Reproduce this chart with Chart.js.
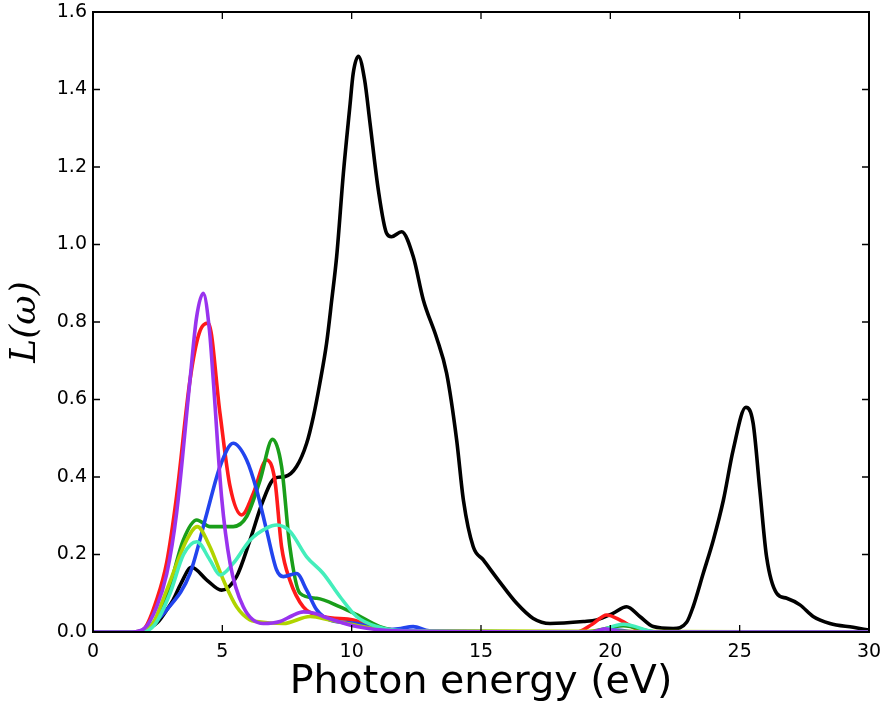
<!DOCTYPE html>
<html>
<head>
<meta charset="utf-8">
<script src="https://cdn.jsdelivr.net/npm/chart.js@4.4.1/dist/chart.umd.min.js"></script>
<style>
  html, body { margin: 0; padding: 0; background: #fff; }
  #wrap { width: 886px; height: 707px; }
</style>
</head>
<body>
<div id="wrap"><canvas id="lossChart"></canvas></div>
<script>
// loss function L(w) vs photon energy
const xTicks = [0, 5, 10, 15, 20, 25, 30];
const yTicks = [0.0, 0.2, 0.4, 0.6, 0.8, 1.0, 1.2, 1.4, 1.6];

const eBlack = [0, 1.5, 2.0, 2.5, 2.85, 3.1, 3.4, 3.81, 4.4, 4.97, 5.55, 6.07, 6.58, 7.03, 7.42, 7.87, 8.26, 8.52, 8.77, 9.03, 9.23, 9.42, 9.68, 9.93, 10.06, 10.26, 10.5, 10.71, 11.03, 11.35, 11.54, 11.93, 12.38, 12.77, 13.28, 13.67, 14.06, 14.32, 14.7, 15.09, 15.67, 16.38, 17.02, 17.67, 18.96, 19.47, 20.1, 20.63, 21.14, 21.66, 22.43, 22.95, 23.2, 23.59, 23.98, 24.37, 24.75, 25.24, 25.52, 25.78, 26.04, 26.43, 26.82, 27.33, 27.84, 28.49, 29.39, 30];
const lBlack = [0, 0, 0.005, 0.025, 0.057, 0.083, 0.125, 0.167, 0.134, 0.108, 0.143, 0.237, 0.34, 0.397, 0.401, 0.427, 0.487, 0.556, 0.642, 0.745, 0.857, 0.969, 1.184, 1.356, 1.442, 1.486, 1.425, 1.313, 1.141, 1.029, 1.02, 1.033, 0.969, 0.857, 0.76, 0.668, 0.495, 0.34, 0.22, 0.186, 0.134, 0.074, 0.035, 0.022, 0.027, 0.031, 0.048, 0.065, 0.04, 0.014, 0.009, 0.025, 0.065, 0.151, 0.237, 0.34, 0.47, 0.58, 0.539, 0.366, 0.194, 0.1, 0.087, 0.07, 0.04, 0.022, 0.012, 0.005];

const eRed = [0, 1.6, 2.0, 2.46, 2.85, 3.23, 3.75, 4.1, 4.46, 4.91, 5.3, 5.75, 6.2, 6.71, 7.03, 7.29, 7.61, 8.13, 8.9, 10.06, 10.84, 12, 18.7, 19.3, 19.86, 20.4, 21.0, 21.5, 30];
const lRed = [0, 0, 0.01, 0.083, 0.18, 0.35, 0.65, 0.77, 0.797, 0.564, 0.375, 0.302, 0.358, 0.444, 0.392, 0.22, 0.134, 0.065, 0.04, 0.031, 0.014, 0.003, 0, 0.02, 0.044, 0.03, 0.008, 0, 0];

const eGreen = [0, 1.8, 2.3, 2.85, 3.49, 4.01, 4.52, 5.42, 5.94, 6.46, 6.94, 7.29, 7.61, 8.0, 8.65, 9.55, 10.19, 11.09, 12, 19, 20.5, 21.8, 30];
const lGreen = [0, 0, 0.02, 0.091, 0.237, 0.289, 0.272, 0.272, 0.298, 0.392, 0.497, 0.427, 0.22, 0.1, 0.087, 0.065, 0.045, 0.014, 0.003, 0, 0.016, 0, 0];

const eBlue = [0, 1.9, 2.3, 2.85, 3.75, 4.4, 4.91, 5.42, 5.94, 6.33, 6.71, 7.1, 7.36, 7.87, 8.26, 8.65, 9.16, 10.2, 11.2, 11.8, 12.38, 13, 19.5, 20.2, 21, 30];
const lBlue = [0, 0, 0.02, 0.057, 0.151, 0.306, 0.427, 0.487, 0.444, 0.366, 0.263, 0.16, 0.143, 0.151, 0.108, 0.057, 0.031, 0.022, 0.005, 0.008, 0.014, 0.003, 0, 0.005, 0, 0];

const eLime = [0, 1.8, 2.3, 2.85, 3.62, 4.03, 4.52, 5.04, 5.55, 6.07, 6.33, 7.36, 8.39, 9.16, 10.2, 11.5, 30];
const lLime = [0, 0, 0.02, 0.108, 0.237, 0.272, 0.22, 0.134, 0.065, 0.031, 0.027, 0.022, 0.04, 0.031, 0.017, 0.003, 0];

const eAqua = [0, 1.9, 2.4, 2.98, 3.5, 4.01, 4.52, 4.91, 5.42, 6.07, 6.71, 7.1, 7.61, 8.26, 8.9, 9.55, 10.19, 10.97, 12, 19.3, 20.5, 21.8, 30];
const lAqua = [0, 0, 0.02, 0.1, 0.2, 0.233, 0.186, 0.147, 0.177, 0.237, 0.268, 0.276, 0.26, 0.194, 0.151, 0.091, 0.04, 0.014, 0.003, 0, 0.02, 0, 0];

const ePurple = [0, 1.5, 2.0, 2.46, 2.85, 3.23, 3.75, 4.0, 4.26, 4.5, 4.65, 4.97, 5.3, 5.81, 6.58, 7.23, 7.7, 8.13, 8.6, 8.9, 10.19, 11.7, 19.3, 19.8, 20.4, 30];
const lPurple = [0, 0, 0.01, 0.065, 0.15, 0.306, 0.65, 0.81, 0.874, 0.78, 0.65, 0.349, 0.177, 0.065, 0.022, 0.027, 0.042, 0.052, 0.048, 0.04, 0.014, 0.003, 0, 0.008, 0, 0];

function pts(xs, ys) {
    return xs.map((x, i) => ({ x: x, y: ys[i] }));
}

function series(xs, ys, color, order) {
    return {
        data: pts(xs, ys),
        borderColor: color,
        borderWidth: 3.6,
        pointRadius: 0,
        fill: false,
        cubicInterpolationMode: 'monotone',
        order: order
    };
}

// frame + inward ticks on all four sides, like matplotlib
const frameTicks = {
    id: 'frameTicks',
    afterDatasetsDraw(chart) {
        const ctx = chart.ctx;
        const a = chart.chartArea;
        const xs = chart.scales.x, ys = chart.scales.y;
        const len = 7;
        ctx.save();
        ctx.strokeStyle = '#000';
        ctx.lineWidth = 1.3;
        ctx.beginPath();
        xTicks.forEach(v => {
            const px = xs.getPixelForValue(v);
            ctx.moveTo(px, a.bottom); ctx.lineTo(px, a.bottom - len);
            ctx.moveTo(px, a.top); ctx.lineTo(px, a.top + len);
        });
        yTicks.forEach(v => {
            const py = ys.getPixelForValue(v);
            ctx.moveTo(a.left, py); ctx.lineTo(a.left + len, py);
            ctx.moveTo(a.right, py); ctx.lineTo(a.right - len, py);
        });
        ctx.stroke();
        ctx.lineWidth = 2;
        ctx.strokeRect(a.left, a.top, a.right - a.left, a.bottom - a.top);
        ctx.restore();
    }
};

const tickFont = { family: 'DejaVu Sans', size: 19 };

new Chart(document.getElementById('lossChart'), {
    type: 'line',
    data: {
        datasets: [
            series(eBlack, lBlack, '#000000', 6),
            series(eRed, lRed, '#ff1a1a', 5),
            series(eGreen, lGreen, '#1a9e1a', 4),
            series(eBlue, lBlue, '#2244ee', 3),
            series(eLime, lLime, '#b0d400', 2),
            series(eAqua, lAqua, '#44eebb', 1),
            series(ePurple, lPurple, '#9933ee', 0)
        ]
    },
    options: {
        responsive: true,
        maintainAspectRatio: false,
        animation: false,
        layout: { padding: { top: 12, right: 17, left: 0, bottom: 0 } },
        plugins: {
            legend: { display: false },
            tooltip: { enabled: false }
        },
        scales: {
            x: {
                type: 'linear',
                min: 0,
                max: 30,
                afterFit: s => {
                    s.height = 75;
                    s.paddingLeft = 0;
                    s.paddingRight = 0;
                },
                grid: { display: false, drawTicks: false },
                border: { display: false },
                afterBuildTicks: s => { s.ticks = xTicks.map(v => ({ value: v })); },
                ticks: { font: tickFont, color: '#000', padding: 9, maxRotation: 0,
                         callback: v => String(v) },
                title: {
                    display: true,
                    text: 'Photon energy (eV)',
                    font: { family: 'DejaVu Sans', size: 39.5 },
                    color: '#000',
                    padding: { top: 0, bottom: 1 }
                }
            },
            y: {
                min: 0,
                max: 1.6,
                afterFit: s => {
                    s.width = 93;
                    s.paddingTop = 0;
                    s.paddingBottom = 0;
                },
                grid: { display: false, drawTicks: false },
                border: { display: false },
                afterBuildTicks: s => { s.ticks = yTicks.map(v => ({ value: v })); },
                ticks: { font: tickFont, color: '#000', padding: 6,
                         callback: v => Number(v).toFixed(1) },
                title: {
                    display: true,
                    text: 'L(ω)',
                    font: { family: 'DejaVu Serif', size: 36, style: 'italic' },
                    color: '#000',
                    padding: { top: 4, bottom: 0 }
                }
            }
        }
    },
    plugins: [frameTicks]
});
</script>
</body>
</html>
